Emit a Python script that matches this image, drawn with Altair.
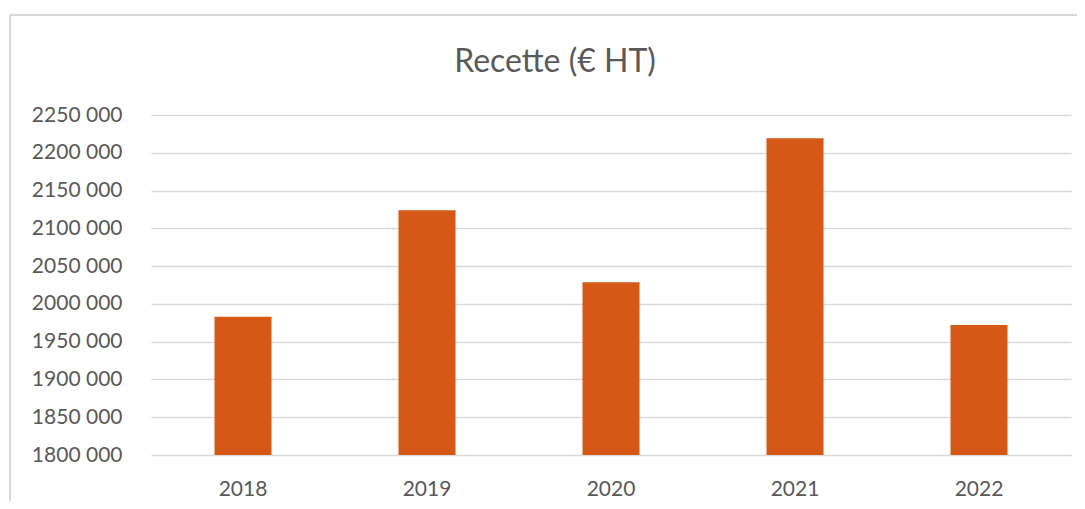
import altair as alt
import pandas as pd

years = ["2018", "2019", "2020", "2021", "2022"]
recette = [1983000, 2124000, 2028600, 2219300, 1972100]
y_ticks = [1800000, 1850000, 1900000, 1950000, 2000000, 2050000, 2100000, 2150000, 2200000, 2250000]

df = pd.DataFrame({"annee": years, "recette": recette})

FONT = "Lato"
GREY = "#595959"

bars = alt.Chart(df).mark_bar(color="#D55816", clip=True).encode(
    x=alt.X("annee:N", sort=years, title=None,
            scale=alt.Scale(paddingInner=0.69, paddingOuter=0.345),
            axis=alt.Axis(labelAngle=0, ticks=False, domain=False, grid=False,
                          labelPadding=23, labelFontSize=21, labelColor=GREY, labelFont=FONT)),
    y=alt.Y("recette:Q", title=None,
            scale=alt.Scale(domain=[1800000, 2250000], zero=False, nice=False),
            axis=alt.Axis(values=y_ticks, ticks=False, domain=False, grid=True,
                          gridColor="#D9D9D9", gridWidth=1.4,
                          labelPadding=29, labelFontSize=21, labelColor=GREY, labelFont=FONT,
                          labelExpr="floor(datum.value / 1000) + ' ' + format(datum.value % 1000, '03d')")),
)

frame_top = alt.Chart(df).mark_rule(color="#D9D9D9", strokeWidth=1.5).encode(
    x=alt.value(-141), x2=alt.value(930), y=alt.value(-100)
)
frame_left = alt.Chart(df).mark_rule(color="#D9D9D9", strokeWidth=1.5).encode(
    x=alt.value(-141), y=alt.value(-100), y2=alt.value(400)
)

chart = alt.layer(frame_top, frame_left, bars).properties(
    width=920,
    height=340,
    background="white",
    autosize=alt.AutoSizeParams(type="none"),
    padding={"left": 143, "top": 107, "right": 6, "bottom": 46},
    title=alt.TitleParams("Recette (€ HT)", fontSize=32, font=FONT, color=GREY,
                          fontWeight="normal", anchor="middle", dx=-56, offset=-90,
                          baseline="alphabetic"),
).configure_view(strokeOpacity=0, strokeWidth=0)

chart.save("out.html", embed_options={"renderer": "svg", "actions": False})
